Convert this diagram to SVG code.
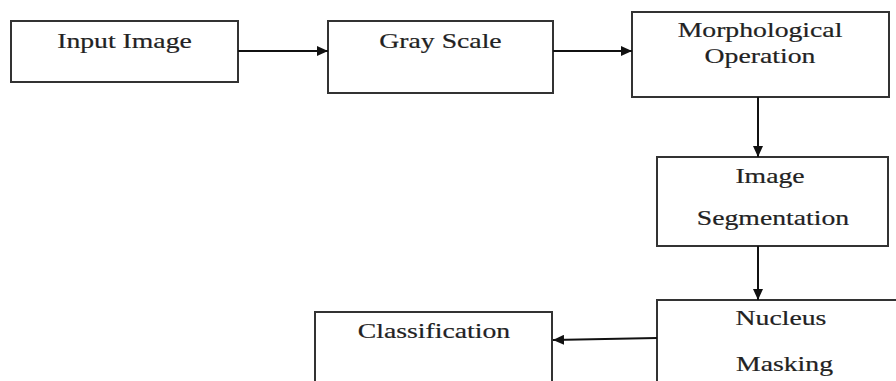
<svg xmlns="http://www.w3.org/2000/svg" width="896" height="381" viewBox="0 0 896 381">
<style>
.box{fill:#fff;stroke:#333;stroke-width:2}
.lbl{font-family:"Liberation Serif","Times New Roman",serif;font-size:22px;fill:#222;stroke:#222;stroke-width:0.2;text-anchor:middle}
.conn{stroke:#111;stroke-width:2;fill:none;marker-end:url(#ah)}
</style>
<defs>
<marker id="ah" markerUnits="userSpaceOnUse" markerWidth="12" markerHeight="10" refX="11" refY="5" orient="auto">
<path d="M0,0 L11,5 L0,10 Z" fill="#111"/>
</marker>
</defs>
<rect width="896" height="381" fill="#fff"/>
<g id="input">
<rect class="box" x="11" y="21" width="227" height="61"/>
<text class="lbl" transform="translate(124.5 48) scale(1.26 1)">Input Image</text>
</g>
<g id="gray">
<rect class="box" x="328" y="21" width="225" height="72"/>
<text class="lbl" transform="translate(440.5 48) scale(1.26 1)">Gray Scale</text>
</g>
<g id="morph">
<rect class="box" x="632" y="12" width="257" height="85"/>
<text class="lbl" transform="translate(760 37) scale(1.26 1)">Morphological</text>
<text class="lbl" transform="translate(760 63) scale(1.26 1)">Operation</text>
</g>
<g id="seg">
<rect class="box" x="657" y="157" width="231" height="89"/>
<text class="lbl" transform="translate(770 183) scale(1.26 1)">Image</text>
<text class="lbl" transform="translate(773 225) scale(1.26 1)">Segmentation</text>
</g>
<g id="nucleus">
<rect class="box" x="657" y="300" width="260" height="120"/>
<text class="lbl" transform="translate(781 325) scale(1.26 1)">Nucleus</text>
<text class="lbl" transform="translate(784.5 371) scale(1.26 1)">Masking</text>
</g>
<g id="classification">
<rect class="box" x="315" y="312" width="237" height="110"/>
<text class="lbl" transform="translate(434 338) scale(1.26 1)">Classification</text>
</g>
<g id="connectors">
<line class="conn" x1="238" y1="51" x2="328" y2="51"/>
<line class="conn" x1="553" y1="51" x2="632" y2="51"/>
<line class="conn" x1="758" y1="97" x2="758" y2="157"/>
<line class="conn" x1="758" y1="246" x2="758" y2="300"/>
<line class="conn" x1="657" y1="338" x2="553" y2="340"/>
</g>
</svg>
